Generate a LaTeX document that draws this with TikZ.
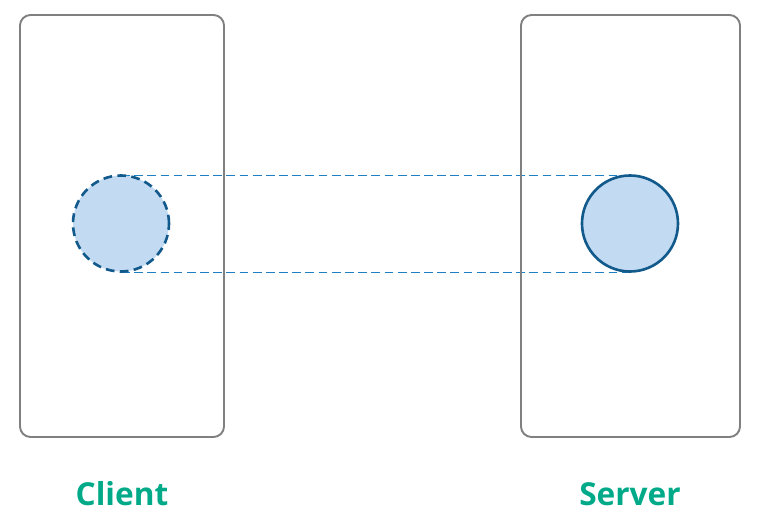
\documentclass[tikz,border=0pt]{standalone}
\usepackage{fontspec}
\setmainfont{Open Sans}
\definecolor{boxgray}{HTML}{808080}
\definecolor{objfill}{HTML}{C2DBF2}
\definecolor{objline}{HTML}{135A8C}
\definecolor{linkblue}{HTML}{1E7FC4}
\definecolor{labelteal}{HTML}{00AA88}
\tikzset{
  host/.style={draw=boxgray, line width=1.1pt, rounded corners=6pt,
    minimum width=#1, minimum height=422*0.02cm, inner sep=0pt},
  obj/.style={circle, fill=objfill, draw=objline, line width=1.5pt,
    minimum size=96*0.02cm, inner sep=0pt},
  ghost/.style={obj, dash pattern=on 5pt off 3pt},
  link/.style={draw=linkblue, line width=0.55pt, dash pattern=on 5pt off 2.5pt},
  hostlabel/.style={text=labelteal, font=\fontsize{18}{21}\selectfont\bfseries}
}
\begin{document}
\begin{tikzpicture}[x=0.02cm, y=-0.02cm]
    \useasboundingbox (0,0) rectangle (762,527);
    % placeholders for the link ends
    \coordinate (ct) at (121,175);
    \coordinate (cb) at (121,272);
    \coordinate (st) at (630,175);
    \coordinate (sb) at (630,272);
    \draw [link] (ct) -- (st);
    \draw [link] (cb) -- (sb);
    \node [host=204*0.02cm] (client) at (122,226) {};
    \node [host=219*0.02cm] (server) at (630.5,226) {};
    \node [ghost] (copy) at (121,223.5) {};
    \node [obj] (orig) at (630,223.5) {};
    \node [hostlabel] (clientlabel) at (122,494) {Client};
    \node [hostlabel] (serverlabel) at (630,494) {Server};
\end{tikzpicture}
\end{document}
